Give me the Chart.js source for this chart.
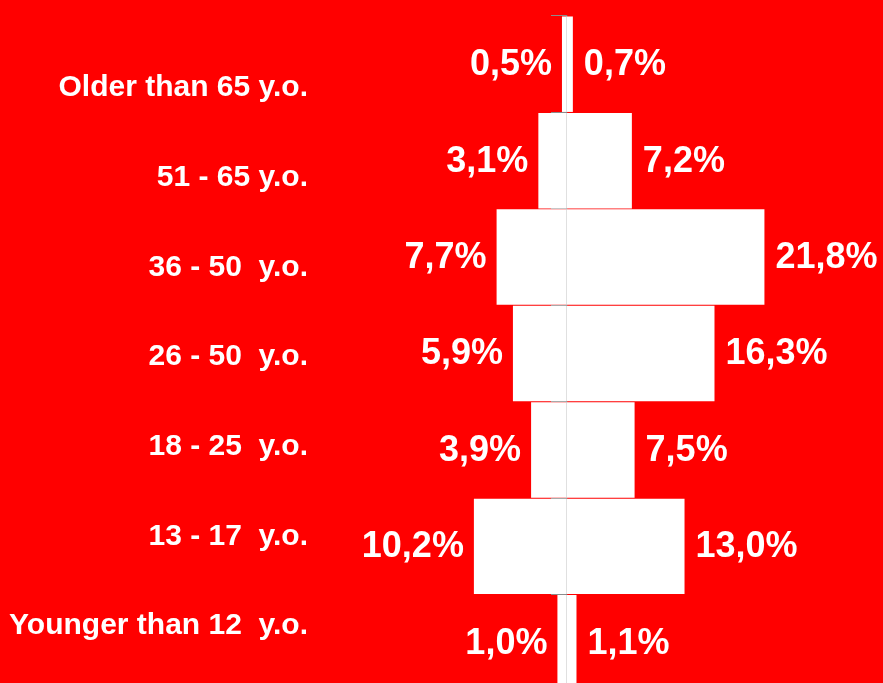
<!DOCTYPE html>
<html>
<head>
<meta charset="utf-8">
<script src="https://cdn.jsdelivr.net/npm/chart.js@4"></script>
<style>
  html, body { margin: 0; padding: 0; background: #ff0000; overflow: hidden; }
  #wrap { width: 883px; height: 691px; }
</style>
</head>
<body>
<div id="wrap"><canvas id="pyramid"></canvas></div>
<script>
const groups = ['Older than 65 y.o.', '51 - 65 y.o.', '36 - 50  y.o.', '26 - 50  y.o.', '18 - 25  y.o.', '13 - 17  y.o.', 'Younger than 12  y.o.'];
const leftValues = [0.5, 3.1, 7.7, 5.9, 3.9, 10.2, 1.0];
const rightValues = [0.7, 7.2, 21.8, 16.3, 7.5, 13.0, 1.1];

// value labels next to the end of each bar
const valueLabels = {
    id: 'valueLabels',
    afterDatasetsDraw(chart) {
        const c = chart.ctx;
        c.save();
        c.fillStyle = '#ffffff';
        c.font = 'bold 36px "Liberation Sans", Arial, sans-serif';
        c.textBaseline = 'middle';
        chart.data.datasets.forEach(function (ds, i) {
            chart.getDatasetMeta(i).data.forEach(function (bar, j) {
                const v = ds.data[j];
                const txt = Math.abs(v).toFixed(1).replace('.', ',') + '%';
                if (v < 0) {
                    c.textAlign = 'right';
                    c.fillText(txt, bar.x - 10, bar.y + 1);
                } else {
                    c.textAlign = 'left';
                    c.fillText(txt, bar.x + 11, bar.y + 1);
                }
            });
        });
        c.restore();
    }
};

const ctx = document.getElementById('pyramid').getContext('2d');
const myChart = new Chart(ctx, {
    type: 'bar',
    data: {
        labels: groups,
        datasets: [{
            label: 'Left',
            data: leftValues.map(v => -v),
            backgroundColor: '#ffffff',
            borderWidth: 0,
            barPercentage: 1,
            categoryPercentage: 0.99,
            xAxisID: 'x',
            yAxisID: 'y'
        }, {
            label: 'Right',
            data: rightValues,
            backgroundColor: '#ffffff',
            borderWidth: 0,
            barPercentage: 1,
            categoryPercentage: 0.99,
            xAxisID: 'x',
            yAxisID: 'y'
        }]
    },
    options: {
        indexAxis: 'y',
        responsive: true,
        maintainAspectRatio: false,
        animation: false,
        layout: { padding: { top: 16, bottom: 0, left: 0, right: 0 } },
        plugins: {
            legend: { display: false },
            tooltip: { enabled: false }
        },
        scales: {
            x: {
                display: false,
                stacked: true,
                min: -27.15,
                max: 34.86
            },
            y: {
                type: 'category',
                position: { x: 0 },
                stacked: true,
                offset: true,
                z: 1,
                afterFit: function (s) { s.width = 0; s.paddingTop = 0; s.paddingBottom = 0; },
                ticks: { display: false },
                grid: { drawOnChartArea: false, drawTicks: true, tickLength: 15, color: '#8c8c8c', offset: true },
                border: { color: '#858585', width: 1.2 }
            },
            yl: {
                type: 'linear',
                position: 'left',
                reverse: true,
                offset: false,
                min: -0.80,
                max: 6.722,
                afterBuildTicks: function (s) { s.ticks = groups.map((g, i) => ({ value: i })); },
                afterFit: function (s) { s.width = 320; s.paddingTop = 0; s.paddingBottom = 0; },
                ticks: {
                    color: '#ffffff',
                    padding: 12,
                    autoSkip: false,
                    font: { family: '"Liberation Sans", Arial, sans-serif', size: 30, weight: 'bold' },
                    callback: function (v) { return groups[v]; }
                },
                grid: { display: false, drawTicks: false, offset: false },
                border: { display: false }
            }
        }
    },
    plugins: [valueLabels]
});
</script>
</body>
</html>
